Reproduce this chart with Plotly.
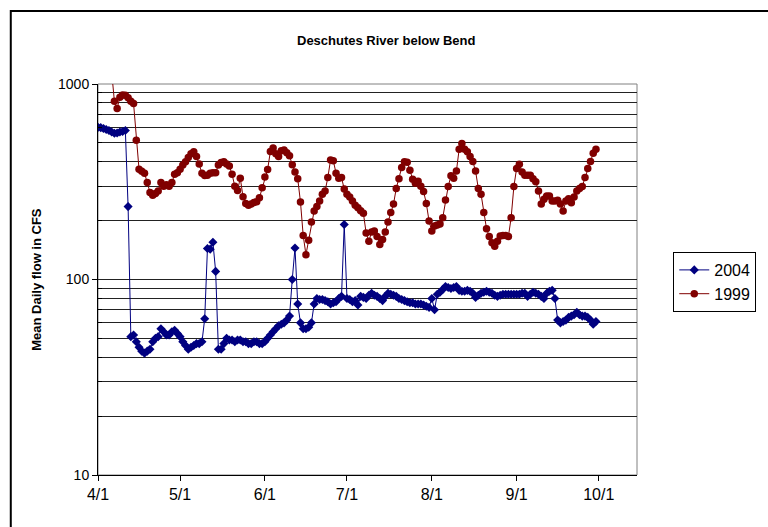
import plotly.graph_objects as go
import pandas as pd

# Season day index 0 = 4/1
dates = pd.date_range("2004-04-01", periods=183, freq="D")

flow_2004 = [600, 598, 592, 585, 578, 568, 560, 562, 568, 572, 578, 236, 51, 52, 48, 45, 43, 42, 43, 44,
             48, 50, 51, 56, 54, 52, 52, 54, 55, 53, 51, 48, 46, 44, 45, 46, 47, 47, 48, 63,
             144, 143, 155, 110, 44, 44, 47, 50, 49, 49, 48, 49, 49, 48, 48, 47, 47, 48, 48, 47,
             47, 48, 50, 52, 54, 56, 58, 59, 60, 62, 65, 100, 145, 75, 60, 56, 56, 57, 60, 75,
             80, 79, 79, 78, 77, 75, 76, 77, 80, 82, 191, 80, 79, 77, 78, 74, 82, 81, 80, 83,
             85, 83, 82, 80, 78, 82, 85, 84, 83, 82, 80, 79, 78, 77, 76, 76, 75, 75, 75, 74,
             73, 72, 80, 70, 84, 86, 89, 92, 91, 90, 91, 92, 88, 87, 87, 88, 87, 85, 81, 83,
             85, 86, 87, 86, 85, 83, 82, 83, 84, 84, 84, 84, 84, 84, 84, 85, 85, 82, 84, 86,
             85, 84, 82, 80, 85, 87, 88, 80, 62, 60, 61, 62, 64, 65, 66, 68, 66, 65, 65, 64,
             62, 59, 61]

# 1999 series begins on season day 5 (4/6)
start_1999 = 5
flow_1999 = [1150, 815, 750, 855, 878, 875, 850, 815, 795, 516, 366, 358, 350, 313, 279, 270, 275, 284, 313, 300,
             305, 300, 313, 345, 352, 366, 385, 400, 421, 440, 450, 426, 390, 350, 340, 341, 350, 352, 352, 385,
             397, 400, 390, 381, 345, 300, 285, 330, 265, 245, 240, 243, 248, 250, 262, 295, 334, 365, 452, 470,
             440, 426, 455, 460, 445, 429, 386, 355, 328, 249, 168, 134, 159, 197, 224, 236, 252, 273, 284, 332,
             409, 405, 350, 330, 332, 290, 273, 264, 252, 240, 233, 225, 218, 173, 157, 175, 177, 166, 151, 160,
             175, 197, 220, 243, 292, 328, 374, 400, 398, 362, 326, 311, 318, 300, 282, 245, 199, 177, 188, 190,
             192, 207, 255, 299, 339, 330, 359, 464, 496, 464, 450, 426, 401, 359, 292, 273, 220, 182, 166, 154,
             148, 157, 167, 168, 168, 166, 207, 299, 370, 389, 355, 341, 341, 341, 328, 316, 284, 243, 257, 267,
             267, 252, 252, 254, 243, 224, 252, 259, 247, 264, 284, 292, 299, 332, 370, 401, 443, 464]

tick_dates = ["2004-04-01", "2004-05-01", "2004-06-01", "2004-07-01", "2004-08-01", "2004-09-01", "2004-10-01"]
tick_labels = ["4/1", "5/1", "6/1", "7/1", "8/1", "9/1", "10/1"]
minor_vals = [20, 30, 40, 50, 60, 70, 80, 90, 200, 300, 400, 500, 600, 700, 800, 900]

FONT = "Arial, Liberation Sans, sans-serif"

fig = go.Figure()
fig.add_trace(go.Scatter(
    x=dates, y=flow_2004, name="2004", mode="lines+markers",
    line=dict(color="#000080", width=1),
    marker=dict(symbol="diamond", size=7, color="#000080"),
))
fig.add_trace(go.Scatter(
    x=dates[start_1999:start_1999 + len(flow_1999)], y=flow_1999, name="1999", mode="lines+markers",
    line=dict(color="#800000", width=1),
    marker=dict(symbol="circle", size=7.5, color="#800000"),
))

W, H = 768, 527
L, R, T, B = 98, 648, 84, 475
def px(x):
    return (x - L) / (R - L)
def py(y):
    return (B - y) / (B - T)

fig.update_layout(
    width=W, height=H, autosize=False,
    margin=dict(l=L, r=W - R, t=T, b=H - B, pad=0),
    paper_bgcolor="white", plot_bgcolor="white",
    font=dict(family=FONT, color="black", size=13),
    showlegend=True,
    legend=dict(
        x=px(685), y=py(252), xanchor="left", yanchor="top",
        bordercolor="black", borderwidth=1, bgcolor="white",
        font=dict(size=16, family=FONT), tracegroupgap=0, itemwidth=30,
    ),
    xaxis=dict(
        type="date",
        range=[pd.Timestamp("2004-04-01"), pd.Timestamp("2004-04-01") + pd.Timedelta(days=197)],
        tickvals=tick_dates, ticktext=tick_labels,
        ticks="outside", ticklen=5, tickcolor="black",
        showline=True, linecolor="black", linewidth=1,
        showgrid=False, zeroline=False,
        tickfont=dict(size=16, family=FONT),
    ),
    yaxis=dict(
        type="log", range=[1, 3],
        tickvals=[10, 100, 1000], ticktext=["10", "100", "1000"],
        ticks="outside", ticklen=5, tickcolor="black",
        showline=True, linecolor="black", linewidth=1,
        showgrid=True, gridcolor="#222222", gridwidth=1,
        zeroline=False,
        tickfont=dict(size=14, family=FONT),
        minor=dict(tickvals=minor_vals, ticks="inside", ticklen=4, tickcolor="black",
                   showgrid=True, gridcolor="#222222", gridwidth=1),
    ),
    annotations=[
        dict(text="<b>Deschutes River below Bend</b>", x=px(392), y=py(40), xref="paper", yref="paper",
             showarrow=False, xanchor="center", yanchor="middle", font=dict(size=13, family=FONT)),
        dict(text="<b>Mean Daily flow in CFS</b>", x=px(35), y=0.5, xref="paper", yref="paper",
             showarrow=False, xanchor="center", yanchor="middle", textangle=-90,
             font=dict(size=13, family=FONT)),
    ],
    shapes=[
        dict(type="rect", xref="paper", yref="paper", x0=0, y0=0, x1=1, y1=1,
             line=dict(color="#808080", width=1), layer="below"),
        dict(type="rect", xref="paper", yref="paper", x0=px(9), y0=py(560), x1=px(800), y1=py(11),
             line=dict(color="black", width=2)),
    ],
)

fig.write_html(
    "out.html",
    config={"responsive": False, "displayModeBar": False},
    post_script="document.body.style.margin='0';document.body.style.overflow='hidden';",
)
